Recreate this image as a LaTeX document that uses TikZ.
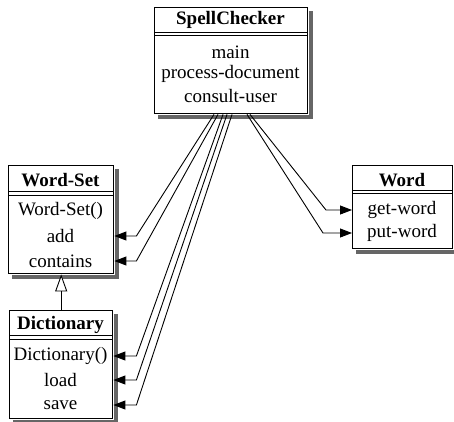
\documentclass[tikz,border=0pt]{standalone}
\usepackage{fontspec}
\setmainfont{Liberation Serif}
\usetikzlibrary{arrows.meta,calc}
\definecolor{shadowgray}{gray}{0.4}
\begin{document}
\begin{tikzpicture}[x=1pt,y=-1pt,
  classbox/.style={draw, line width=1.4pt, fill=white, rectangle, anchor=north west, inner sep=0pt},
  titletext/.style={font=\fontsize{19}{22}\selectfont\bfseries, inner sep=0pt},
  meth/.style={font=\fontsize{19}{22}\selectfont, inner sep=0pt},
  sepline/.style={line width=1pt},
  call/.style={line width=0.9pt, -{Triangle[length=12pt,width=9pt]}},
  inherit/.style={line width=0.9pt, -{Triangle[open, length=17pt, width=12pt, fill=white]}}
]
\useasboundingbox (0,0) rectangle (454,421);

% SpellChecker
\node[classbox, minimum width=153pt, minimum height=106pt] (sc) at (154,7) {};
\node[titletext] (sct) at (230.5,20) {SpellChecker};
\draw[sepline] ($(sc.north west)+(0,25)$) -- ($(sc.north east)+(0,25)$);
\draw[sepline] ($(sc.north west)+(0,28)$) -- ($(sc.north east)+(0,28)$);
\node[meth] (scm1) at (230.5,52) {main};
\node[meth] (scm2) at (230.5,74) {process-document};
\node[meth] (scm3) at (230.5,96) {consult-user};

% Word-Set
\node[classbox, minimum width=105pt, minimum height=108pt] (ws) at (8,165) {};
\node[titletext] (wst) at (60.5,180) {Word-Set};
\draw[sepline] ($(ws.north west)+(0,26)$) -- ($(ws.north east)+(0,26)$);
\draw[sepline] ($(ws.north west)+(0,30)$) -- ($(ws.north east)+(0,30)$);
\node[meth] (wsm1) at (60.5,211) {Word-Set()};
\node[meth] (wsm2) at (60.5,236) {add};
\node[meth] (wsm3) at (60.5,261) {contains};

% Dictionary
\node[classbox, minimum width=103pt, minimum height=108pt] (dc) at (9,310) {};
\node[titletext] (dct) at (60.5,325) {Dictionary};
\draw[sepline] ($(dc.north west)+(0,25)$) -- ($(dc.north east)+(0,25)$);
\draw[sepline] ($(dc.north west)+(0,29)$) -- ($(dc.north east)+(0,29)$);
\node[meth] (dcm1) at (60.5,356) {Dictionary()};
\node[meth] (dcm2) at (60.5,380) {load};
\node[meth] (dcm3) at (60.5,405) {save};

% Word
\node[classbox, minimum width=100pt, minimum height=83pt] (wd) at (352,165) {};
\node[titletext] (wdt) at (402,180) {Word};
\draw[sepline] ($(wd.north west)+(0,25)$) -- ($(wd.north east)+(0,25)$);
\draw[sepline] ($(wd.north west)+(0,28)$) -- ($(wd.north east)+(0,28)$);
\node[meth] (wdm1) at (402,210) {get-word};
\node[meth] (wdm2) at (402,233) {put-word};

% shadows (right and bottom strips)
\foreach \bx in {sc,ws,dc,wd}{
  \fill[shadowgray] ($(\bx.north east)+(0.7,4)$) rectangle ($(\bx.south east)+(4.7,4.7)$);
  \fill[shadowgray] ($(\bx.south west)+(4,0.7)$) rectangle ($(\bx.south east)+(4.7,4.7)$);
}

% calls
\draw[call] ($(sc.south west)+(60,0)$) -- ($(ws.east |- wsm2)+(22,0)$) -- (ws.east |- wsm2);
\draw[call] ($(sc.south west)+(64,0)$) -- ($(ws.east |- wsm3)+(22,0)$) -- (ws.east |- wsm3);
\draw[call] ($(sc.south west)+(69,0)$) -- ($(dc.east |- dcm1)+(23,0)$) -- (dc.east |- dcm1);
\draw[call] ($(sc.south west)+(73,0)$) -- ($(dc.east |- dcm2)+(23,0)$) -- (dc.east |- dcm2);
\draw[call] ($(sc.south west)+(78,0)$) -- ($(dc.east |- dcm3)+(23,0)$) -- (dc.east |- dcm3);
\draw[call] ($(sc.south west)+(96,0)$) -- ($(wd.west |- wdm1)+(-26,0)$) -- (wd.west |- wdm1);
\draw[call] ($(sc.south west)+(93,0)$) -- ($(wd.west |- wdm2)+(-29,0)$) -- (wd.west |- wdm2);

% inheritance
\draw[inherit] (dc.north) -- (ws.south);
\end{tikzpicture}
\end{document}
